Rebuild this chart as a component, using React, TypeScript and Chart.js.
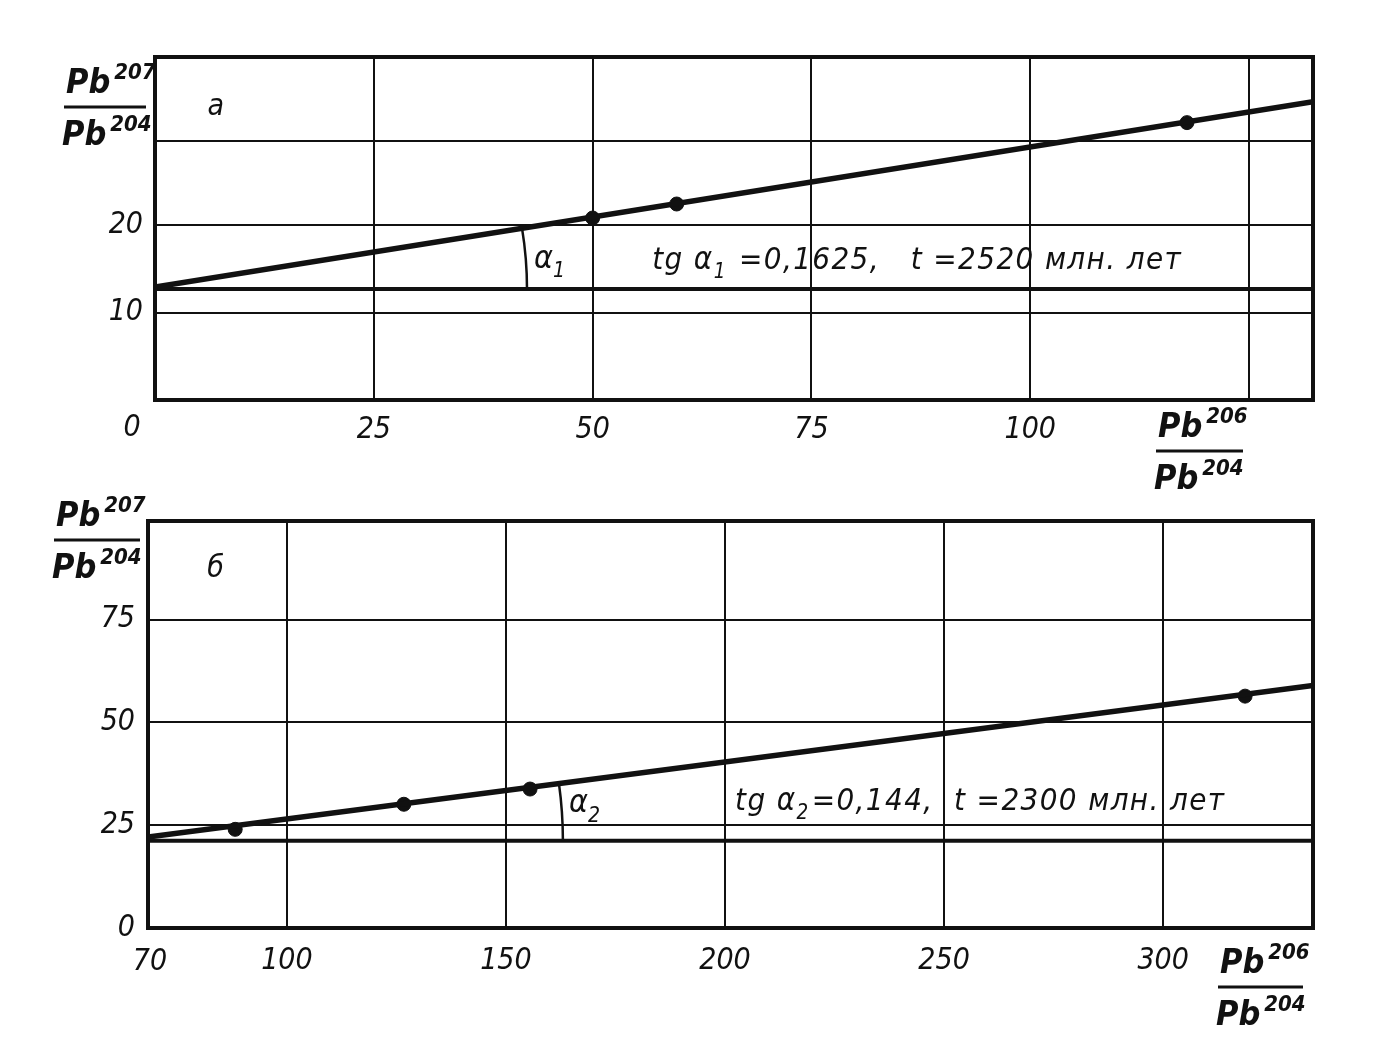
import { useEffect, useRef } from "react";
import { Chart, registerables } from "chart.js";
Chart.register(...registerables);

const FONT = "'Liberation Sans Narrow', 'DejaVu Sans Condensed', 'DejaVu Sans', sans-serif";

// ---------- Panel "а" ----------
const xRangeA = [0, 132.3];
const yRangeA = [0, 39.2];
const xTicksA = [25, 50, 75, 100, 125];
const xTickLabelsA = ["25", "50", "75", "100", ""];
const yTicksA = [10, 20, 29.6];
const yTickLabelsA = ["10", "20", ""];
const pointsAx = [50, 59.6, 117.9];
const pointsAy = [20.8, 22.4, 31.7];
const isochronAx = [0, 132.3];
const isochronAy = [12.9, 34.1];
const baseLevelA = 12.7;
const angleXA = 42.5;
const originLabelA = "0";
const panelLetterA = "а";
const letterPosA = [6.0, 32.6];
const alphaPosA = [43.3, 15.1];
const formulaPosA = [56.8, 15.0];
const formulaA = [
  { t: "tg α" },
  { t: "1", s: "sub" },
  { t: " =0,1625,   t =2520 млн. лет" },
];

// ---------- Panel "б" ----------
const xRangeB = [68.3, 334.2];
const yRangeB = [0, 99];
const xTicksB = [100, 150, 200, 250, 300];
const xTickLabelsB = ["100", "150", "200", "250", "300"];
const yTicksB = [0, 25, 50, 75];
const yTickLabelsB = ["0", "25", "50", "75"];
const pointsBx = [88.2, 126.7, 155.5, 318.7];
const pointsBy = [24.0, 30.1, 33.8, 56.4];
const isochronBx = [68.3, 334.2];
const isochronBy = [22.1, 59.0];
const baseLevelB = 21.2;
const angleXB = 163;
const originLabelB = "70";
const panelLetterB = "б";
const letterPosB = [81.8, 85.3];
const alphaPosB = [164.4, 28.2];
const formulaPosB = [202.3, 28.7];
const formulaB = [
  { t: "tg α" },
  { t: "2", s: "sub" },
  { t: "=0,144,  t =2300 млн. лет" },
];

function richText(ctx: CanvasRenderingContext2D, x: number, y: number, parts: any[], size: number, spacing = 0) {
  let cx = x;
  ctx.textAlign = "left";
  ctx.textBaseline = "alphabetic";
  (ctx as any).letterSpacing = `${spacing}px`;
  for (const p of parts) {
    const s = p.s ? size * 0.66 : size;
    ctx.font = `italic ${s}px ${FONT}`;
    const dy = p.s === "sub" ? size * 0.3 : p.s === "sup" ? -size * 0.45 : 0;
    ctx.fillText(p.t, cx, y + dy);
    cx += ctx.measureText(p.t).width + (p.s ? 2 : 0);
  }
  (ctx as any).letterSpacing = "0px";
  return cx - x;
}

function drawPb(ctx: CanvasRenderingContext2D, x: number, baseline: number, sup: string) {
  ctx.fillStyle = "#111";
  ctx.textAlign = "left";
  ctx.textBaseline = "alphabetic";
  ctx.font = `italic bold 34px ${FONT}`;
  ctx.fillText("Pb", x, baseline);
  const w = ctx.measureText("Pb").width;
  ctx.font = `italic bold 22px ${FONT}`;
  ctx.fillText(sup, x + w + 4, baseline - 14);
}

function drawFraction(ctx: CanvasRenderingContext2D, x: number, lineY: number, width: number, top: string, bottom: string) {
  drawPb(ctx, x + 2, lineY - 14, top);
  ctx.strokeStyle = "#111";
  ctx.lineWidth = 3;
  ctx.beginPath();
  ctx.moveTo(x, lineY);
  ctx.lineTo(x + width, lineY);
  ctx.stroke();
  drawPb(ctx, x - 2, lineY + 38, bottom);
}

type Spec = {
  xRange: number[]; yRange: number[];
  xTicks: number[]; xTickLabels: string[];
  yTicks: number[]; yTickLabels: string[];
  px: number[]; py: number[];
  ix: number[]; iy: number[];
  base: number; angleX: number;
  origin: string; originPos: number[];
  letter: string; letterPos: number[];
  alpha: string; alphaPos: number[];
  formula: any[]; formulaPos: number[];
  yFrac: number[]; xFrac: number[];
  padTop: number; yWidth: number; xHeight: number;
  xPad: number; yPad: number;
};

function buildConfig(sp: Spec): any {
  const annot = {
    id: "annot",
    afterDraw(chart: any) {
      const ctx: CanvasRenderingContext2D = chart.ctx;
      const xs = chart.scales.x, ys = chart.scales.y;
      const { left, right, top, bottom } = chart.chartArea;
      ctx.save();
      // frame
      ctx.strokeStyle = "#111";
      ctx.lineWidth = 4;
      ctx.strokeRect(left, top, right - left, bottom - top);
      // angle arc
      const cx = left;
      const cy = ys.getPixelForValue(sp.base);
      const r = xs.getPixelForValue(sp.angleX) - cx;
      const t = (sp.angleX - sp.ix[0]) / (sp.ix[1] - sp.ix[0]);
      const yl = ys.getPixelForValue(sp.iy[0] + t * (sp.iy[1] - sp.iy[0]));
      const th = Math.atan2(cy - yl, r);
      ctx.lineWidth = 2.5;
      ctx.beginPath();
      ctx.arc(cx, cy, r, -th, 0);
      ctx.stroke();
      ctx.fillStyle = "#111";
      // alpha label
      richText(ctx, xs.getPixelForValue(sp.alphaPos[0]), ys.getPixelForValue(sp.alphaPos[1]),
        [{ t: "α" }, { t: sp.alpha, s: "sub" }], 32);
      // formula
      richText(ctx, xs.getPixelForValue(sp.formulaPos[0]), ys.getPixelForValue(sp.formulaPos[1]), sp.formula, 31, 1.4);
      // panel letter
      ctx.font = `italic 30px ${FONT}`;
      ctx.textAlign = "left";
      ctx.textBaseline = "alphabetic";
      ctx.fillText(sp.letter, xs.getPixelForValue(sp.letterPos[0]), ys.getPixelForValue(sp.letterPos[1]));
      // origin label
      ctx.font = `italic 30px ${FONT}`;
      ctx.textAlign = "center";
      ctx.textBaseline = "middle";
      ctx.fillText(sp.origin, sp.originPos[0], sp.originPos[1]);
      // axis title fractions
      drawFraction(ctx, sp.yFrac[0], sp.yFrac[1], sp.yFrac[2], "207", "204");
      drawFraction(ctx, sp.xFrac[0], sp.xFrac[1], sp.xFrac[2], "206", "204");
      ctx.restore();
    },
  };

  const tickFont = { family: FONT, size: 30, style: "italic" as const };
  return {
    type: "scatter",
    data: {
      datasets: [
        {
          data: [{ x: sp.xRange[0], y: sp.base }, { x: sp.xRange[1], y: sp.base }],
          showLine: true, borderColor: "#111", borderWidth: 4, pointRadius: 0,
        },
        {
          data: sp.ix.map((x, i) => ({ x, y: sp.iy[i] })),
          showLine: true, borderColor: "#111", borderWidth: 5.5, pointRadius: 0,
        },
        {
          data: sp.px.map((x, i) => ({ x, y: sp.py[i] })),
          showLine: false, pointRadius: 7, pointBackgroundColor: "#111", pointBorderColor: "#111",
        },
      ],
    },
    options: {
      responsive: false,
      animation: false,
      layout: { padding: { top: sp.padTop, right: 60, left: 0, bottom: 0 } },
      plugins: { legend: { display: false }, tooltip: { enabled: false } },
      scales: {
        x: {
          type: "linear",
          min: sp.xRange[0], max: sp.xRange[1],
          afterBuildTicks: (s: any) => { s.ticks = sp.xTicks.map((v) => ({ value: v })); },
          afterFit: (s: any) => { s.height = sp.xHeight; },
          ticks: {
            autoSkip: false, maxRotation: 0, color: "#111", font: tickFont, padding: sp.xPad,
            callback: (v: number) => { const i = sp.xTicks.indexOf(v); return i >= 0 ? sp.xTickLabels[i] : ""; },
          },
          grid: { color: "#111", lineWidth: 2, drawTicks: false },
          border: { display: true, color: "#111", width: 4 },
        },
        y: {
          type: "linear",
          min: sp.yRange[0], max: sp.yRange[1],
          afterBuildTicks: (s: any) => { s.ticks = sp.yTicks.map((v) => ({ value: v })); },
          afterFit: (s: any) => { s.width = sp.yWidth; },
          ticks: {
            autoSkip: false, color: "#111", font: tickFont, padding: sp.yPad,
            callback: (v: number) => { const i = sp.yTicks.indexOf(v); return i >= 0 ? sp.yTickLabels[i] : ""; },
          },
          grid: { color: "#111", lineWidth: 2, drawTicks: false },
          border: { display: true, color: "#111", width: 4 },
        },
      },
    },
    plugins: [annot],
  };
}

const specA: Spec = {
  xRange: xRangeA, yRange: yRangeA, xTicks: xTicksA, xTickLabels: xTickLabelsA,
  yTicks: yTicksA, yTickLabels: yTickLabelsA, px: pointsAx, py: pointsAy,
  ix: isochronAx, iy: isochronAy, base: baseLevelA, angleX: angleXA,
  origin: originLabelA, originPos: [132, 428],
  letter: panelLetterA, letterPos: letterPosA, alpha: "1", alphaPos: alphaPosA,
  formula: formulaA, formulaPos: formulaPosA,
  yFrac: [64, 107, 82], xFrac: [1156, 451, 87],
  padTop: 57, yWidth: 155, xHeight: 90, xPad: 12, yPad: 12,
};

const specB: Spec = {
  xRange: xRangeB, yRange: yRangeB, xTicks: xTicksB, xTickLabels: xTickLabelsB,
  yTicks: yTicksB, yTickLabels: yTickLabelsB, px: pointsBx, py: pointsBy,
  ix: isochronBx, iy: isochronBy, base: baseLevelB, angleX: angleXB,
  origin: originLabelB, originPos: [150, 472],
  letter: panelLetterB, letterPos: letterPosB, alpha: "2", alphaPos: alphaPosB,
  formula: formulaB, formulaPos: formulaPosB,
  yFrac: [54, 50, 86], xFrac: [1218, 497, 85],
  padTop: 13, yWidth: 148, xHeight: 132, xPad: 15, yPad: 13,
};

function Panel({ spec, top, height }: { spec: Spec; top: number; height: number }) {
  const ref = useRef<HTMLCanvasElement>(null);
  useEffect(() => {
    if (!ref.current) return;
    const chart = new Chart(ref.current, buildConfig(spec));
    return () => chart.destroy();
  }, [spec]);
  return (
    <canvas
      ref={ref}
      width={1373}
      height={height}
      style={{ position: "absolute", left: 0, top, width: 1373, height }}
    />
  );
}

export default function App() {
  return (
    <div style={{ position: "fixed", left: 0, top: 0, width: 1373, height: 1060, background: "#fff", overflow: "hidden" }}>
      <Panel spec={specA} top={0} height={490} />
      <Panel spec={specB} top={490} height={570} />
    </div>
  );
}
